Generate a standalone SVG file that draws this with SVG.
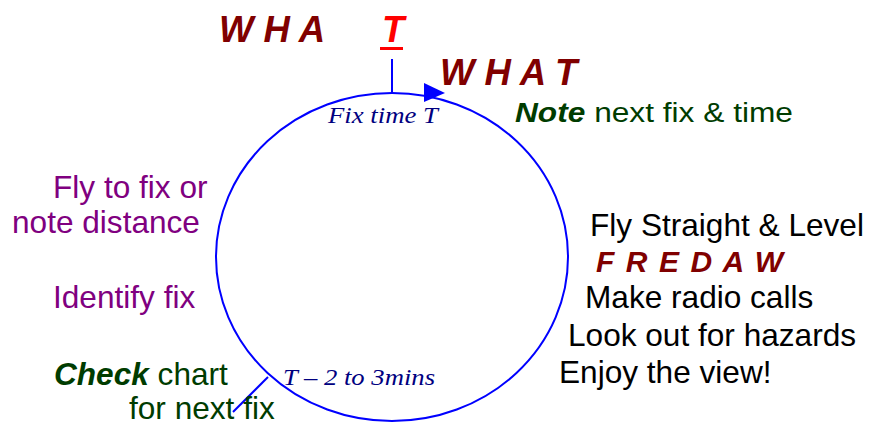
<svg xmlns="http://www.w3.org/2000/svg" width="869" height="423" viewBox="0 0 869 423">
<style>
text{font-family:"Liberation Sans",Arial,sans-serif;}
.big{font-size:36.5px;font-weight:bold;font-style:italic;fill:#800000;}
.body{font-size:31.6px;}
.blk{fill:#000;}
.pur{fill:#800080;}
.grn{fill:#003c00;}
.em{font-weight:bold;font-style:italic;}
.ser{font-family:"Liberation Serif","Times New Roman",serif;font-style:italic;fill:#000080;font-size:23px;}
.ln{stroke:#0000ff;stroke-width:2;fill:none;}
</style>
<rect width="869" height="423" fill="#fff"/>
<g id="connectors">
<ellipse class="ln" cx="392" cy="257" rx="176" ry="164"/>
<line class="ln" x1="392" y1="59" x2="392" y2="93"/>
<line class="ln" x1="268" y1="377" x2="233" y2="412"/>
<polygon points="424,83 445,93 424,102" fill="#0000ff"/>
</g>
<g id="title">
<text class="big" x="219" y="42">W H A</text>
<text class="big" x="382" y="42" style="fill:#ff0000">T</text>
<rect x="380" y="47" width="23" height="3" fill="#ff0000"/>
<text class="big" x="440" y="85">W H A T</text>
</g>
<g id="fix-time"><text class="ser" x="328" y="123" textLength="110" lengthAdjust="spacingAndGlyphs">Fix time T</text></g>
<g id="t-minus"><text class="ser" x="283" y="385" textLength="152" lengthAdjust="spacingAndGlyphs">T – 2 to 3mins</text></g>
<g id="note"><text class="grn" x="515" y="122" textLength="278" lengthAdjust="spacingAndGlyphs" style="font-size:27.5px"><tspan class="em">Note</tspan> next fix &amp; time</text></g>
<g id="right-list">
<text class="body blk" x="590" y="236">Fly Straight &amp; Level</text>
<text class="big" x="596" y="272" style="font-size:30px" textLength="187" lengthAdjust="spacing">F R E D A W</text>
<text class="body blk" x="585" y="308">Make radio calls</text>
<text class="body blk" x="568" y="346">Look out for hazards</text>
<text class="body blk" x="559" y="383">Enjoy the view!</text>
</g>
<g id="fly-to-fix">
<text class="body pur" x="53" y="198">Fly to fix or</text>
<text class="body pur" x="12" y="233">note distance</text>
</g>
<g id="identify"><text class="body pur" x="53" y="308">Identify fix</text></g>
<g id="check">
<text class="body grn" x="54" y="385"><tspan class="em">Check</tspan> chart</text>
<text class="body grn" x="129" y="419">for next fix</text>
</g>
</svg>
